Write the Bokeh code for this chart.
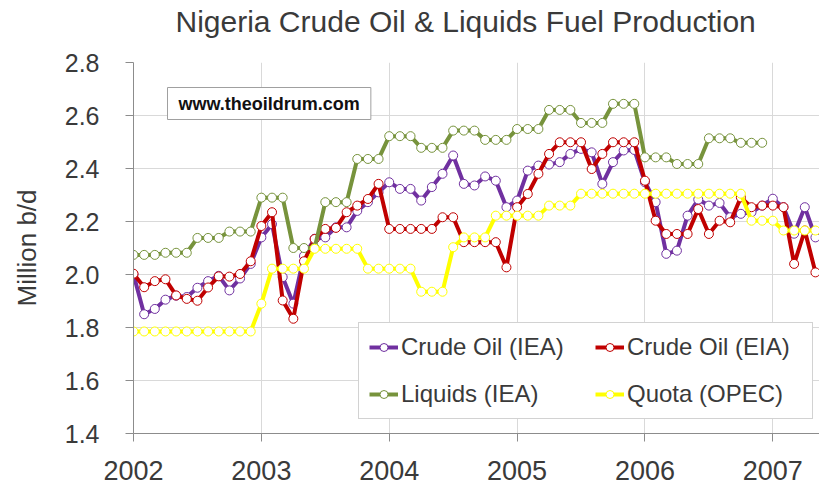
from bokeh.plotting import figure
from bokeh.models import Label, Legend, LegendItem, FixedTicker, Title
from bokeh.embed import file_html
from bokeh.resources import INLINE

# ---------------- data ----------------
months = [f"{y}-{m:02d}" for y in range(2002, 2008) for m in range(1, 13)][:65]

crude_iea = [2.00, 1.85, 1.87, 1.905, 1.92, 1.915, 1.95, 1.975, 1.995, 1.94, 1.985, 2.04,
             2.14, 2.19, 1.99, 1.89, 2.07, 2.135, 2.14, 2.178, 2.178, 2.24, 2.273, 2.31,
             2.348, 2.323, 2.323, 2.279, 2.33, 2.38, 2.449, 2.342, 2.336, 2.37, 2.354, 2.254,
             2.279, 2.392, 2.411, 2.415, 2.424, 2.455, 2.474, 2.461, 2.342, 2.424, 2.468, 2.47,
             2.348, 2.273, 2.078, 2.09, 2.222, 2.283, 2.26, 2.27, 2.216, 2.229, 2.235, 2.26,
             2.286, 2.254, 2.154, 2.254, 2.14]

crude_eia = [2.003, 1.952, 1.975, 1.982, 1.921, 1.908, 1.901, 1.951, 1.993, 1.992, 2.002, 2.05,
             2.183, 2.235, 1.902, 1.833, 2.05, 2.134, 2.172, 2.176, 2.235, 2.26, 2.285, 2.342,
             2.172, 2.172, 2.172, 2.172, 2.172, 2.216, 2.216, 2.122, 2.122, 2.122, 2.122, 2.027,
             2.254, 2.304, 2.38, 2.455, 2.499, 2.499, 2.499, 2.398, 2.455, 2.499, 2.499, 2.499,
             2.354, 2.203, 2.153, 2.153, 2.153, 2.247, 2.153, 2.203, 2.197, 2.291, 2.254, 2.26,
             2.26, 2.254, 2.04, 2.166, 2.008]

liquids_iea = [2.074, 2.074, 2.074, 2.082, 2.082, 2.082, 2.138, 2.138, 2.138, 2.162, 2.162, 2.162,
               2.29, 2.29, 2.29, 2.10, 2.10, 2.10, 2.273, 2.273, 2.273, 2.436, 2.436, 2.436,
               2.522, 2.522, 2.522, 2.478, 2.478, 2.478, 2.543, 2.543, 2.543, 2.508, 2.508, 2.508,
               2.549, 2.549, 2.549, 2.621, 2.621, 2.621, 2.572, 2.572, 2.572, 2.644, 2.644, 2.644,
               2.442, 2.442, 2.442, 2.417, 2.417, 2.417, 2.514, 2.514, 2.514, 2.497, 2.497, 2.497]

quota_opec = [1.785] * 12 + [1.89, 2.022, 2.022, 2.022, 2.022,
              2.097, 2.097, 2.097, 2.097, 2.097,
              2.022, 2.022, 2.022, 2.022, 2.022,
              1.935, 1.935, 1.935, 2.103, 2.14, 2.14, 2.14,
              2.222, 2.222, 2.222, 2.222, 2.222,
              2.26, 2.26, 2.26] + [2.305] * 16 + [2.203, 2.203, 2.203, 2.166, 2.166, 2.166, 2.166]

year_ticks = [2002, 2003, 2004, 2005, 2006, 2007]
y_ticks = [1.4, 1.6, 1.8, 2.0, 2.2, 2.4, 2.6, 2.8]
y_tick_labels = ["1.4", "1.6", "1.8", "2.0", "2.2", "2.4", "2.6", "2.8"]

series_names = ["Crude Oil (IEA)", "Crude Oil (EIA)", "Liquids (IEA)", "Quota (OPEC)"]
series_colors = ["#7030A0", "#C00000", "#77933C", "#FFFF00"]
series_values = [crude_iea, crude_eia, liquids_iea, quota_opec]

xdec = [int(s[:4]) + (int(s[5:]) - 1) / 12 for s in months]

FONT = "Liberation Sans"
TXT = "#3a3a3a"

p = figure(width=819, height=495, x_range=(2002, 2007.365), y_range=(1.4, 2.8),
           output_backend="svg", toolbar_location=None,
           min_border_left=133, min_border_right=0, min_border_top=62, min_border_bottom=62)
p.outline_line_color = None
p.background_fill_color = "white"

# title
p.title.text = "Nigeria Crude Oil & Liquids Fuel Production"
p.title.text_font = FONT
p.title.text_font_size = "30px"
p.title.text_font_style = "normal"
p.title.text_color = TXT
p.title.align = "left"
p.title.offset = 42
p.title.standoff = 0
# spacer between title and frame
p.add_layout(Title(text=" ", text_font_size="1px", standoff=22), "above")

# axes
p.xaxis.ticker = FixedTicker(ticks=year_ticks)
p.yaxis.ticker = FixedTicker(ticks=y_ticks)
p.yaxis.major_label_overrides = {t: l for t, l in zip(y_ticks, y_tick_labels)}
p.xaxis.major_label_overrides = {t: str(t) for t in year_ticks}
for ax in (p.xaxis, p.yaxis):
    ax.axis_line_color = "#8c8c8c"
    ax.major_tick_line_color = "#8c8c8c"
    ax.major_tick_in = 0
    ax.major_tick_out = 8
    ax.minor_tick_line_color = None
    ax.major_label_text_font = FONT
    ax.major_label_text_color = TXT
p.xaxis.major_label_text_font_size = "27px"
p.yaxis.major_label_text_font_size = "25px"
p.xaxis.major_label_standoff = 19
p.yaxis.major_label_standoff = 26

p.yaxis.axis_label = "Million b/d"
p.yaxis.axis_label_text_font = FONT
p.yaxis.axis_label_text_font_size = "26px"
p.yaxis.axis_label_text_font_style = "normal"
p.yaxis.axis_label_text_color = TXT
p.yaxis.axis_label_standoff = 20

p.xgrid.ticker = FixedTicker(ticks=year_ticks)
p.ygrid.ticker = FixedTicker(ticks=y_ticks)
p.xgrid.grid_line_color = "#d9d9d9"
p.ygrid.grid_line_color = "#d9d9d9"

renderers = {}
for name, col, vals in zip(series_names, series_colors, series_values):
    xs = xdec[:len(vals)]
    r1 = p.line(xs, vals, line_color=col, line_width=4)
    r2 = p.scatter(xs, vals, marker="circle", size=9, fill_color="white",
                   line_color=col, line_width=1)
    renderers[name] = [r1, r2]

# legend filled column-major: col1 = IEA crude / Liquids, col2 = EIA crude / Quota
legend_order = ["Crude Oil (IEA)", "Liquids (IEA)", "Crude Oil (EIA)", "Quota (OPEC)"]
items = [LegendItem(label=n, renderers=renderers[n]) for n in legend_order]

legend = Legend(items=items, ncols=2, location=(225, 14))
legend.label_text_font = FONT
legend.label_text_font_size = "24px"
legend.label_text_color = TXT
legend.border_line_color = "#a6a6a6"
legend.background_fill_color = "white"
legend.background_fill_alpha = 1.0
legend.padding = 10
legend.spacing = 19
legend.margin = 0
legend.glyph_width = 29
legend.glyph_height = 20
legend.label_standoff = 3
legend.label_height = 28
legend.label_width = 175
p.add_layout(legend, "center")

# watermark
p.add_layout(Label(x=34, y=330, x_units="screen", y_units="screen",
                   text="www.theoildrum.com", text_align="left", text_baseline="middle",
                   text_font=FONT, text_font_size="18px", text_font_style="bold",
                   text_color="#111111", border_line_color="#a0a0a0",
                   background_fill_color="white", padding=(11, 6)))

open("out.html", "w").write(file_html(p, INLINE))
